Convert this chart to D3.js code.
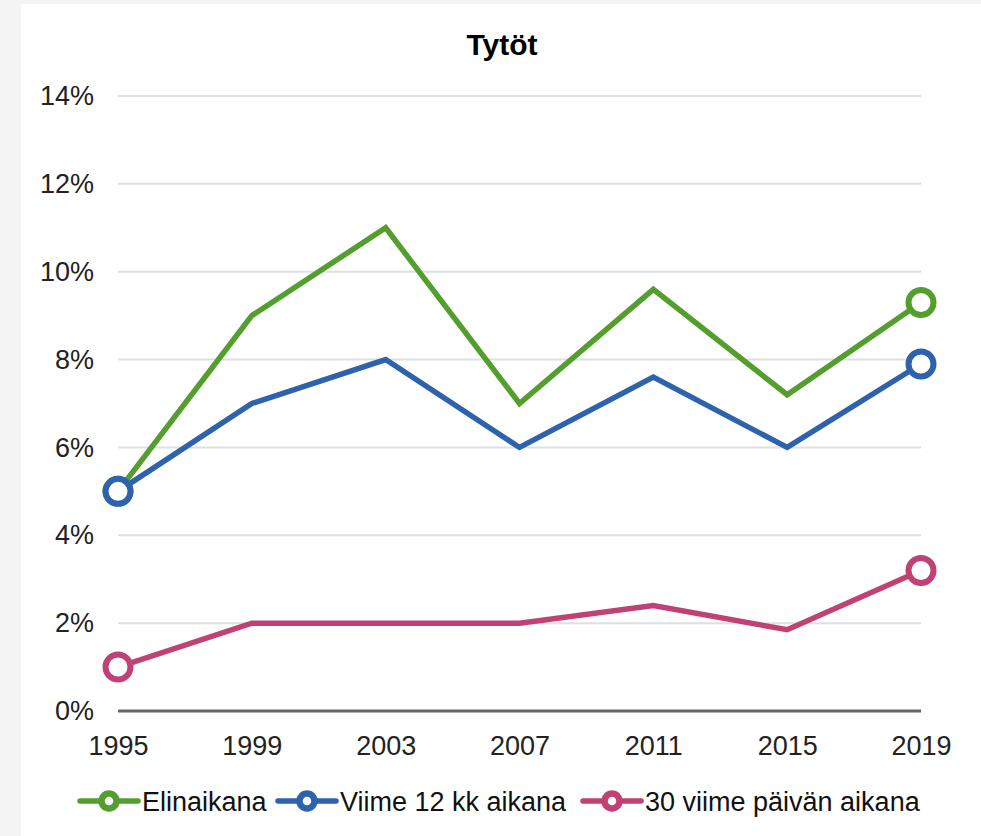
<!DOCTYPE html>
<html>
<head>
<meta charset="utf-8">
<script src="https://cdn.jsdelivr.net/npm/d3@7"></script>
<style>
  html, body { margin: 0; padding: 0; background: #f4f4f4; }
  svg { display: block; font-family: "Liberation Sans", Arial, sans-serif; }
</style>
</head>
<body>
<svg id="chart" width="981" height="836"></svg>
<script>
const years = ['1995', '1999', '2003', '2007', '2011', '2015', '2019']
const elinaikana = [5.0, 9.0, 11.0, 7.0, 9.6, 7.2, 9.3]
const viime12kk = [5.0, 7.0, 8.0, 6.0, 7.6, 6.0, 7.9]
const viime30pv = [1.0, 2.0, 2.0, 2.0, 2.4, 1.85, 3.2]
const yTicks = [0, 2, 4, 6, 8, 10, 12, 14]
const seriesNames = ['Elinaikana', 'Viime 12 kk aikana', '30 viime päivän aikana']
const seriesColors = ['#549e2e', '#2e62ad', '#c04174']

const series = [elinaikana, viime12kk, viime30pv].map((values, i) => ({
    name: seriesNames[i],
    color: seriesColors[i],
    values: values
}))

const svg = d3.select('#chart')

// white panel
svg.append('rect')
    .attr('x', 21).attr('y', 4)
    .attr('width', 981 - 21).attr('height', 836 - 4)
    .attr('fill', '#fff')

const xScale = d3.scalePoint()
    .domain(years)
    .range([118, 921])

const yScale = d3.scaleLinear()
    .domain([0, 14])
    .range([711, 96])

// title
svg.append('text')
    .attr('x', 502).attr('y', 55)
    .attr('text-anchor', 'middle')
    .attr('font-size', 30)
    .attr('font-weight', 'bold')
    .attr('fill', '#000')
    .text('Tytöt')

// gridlines
svg.append('g')
    .selectAll('line')
    .data(yTicks.filter(d => d > 0))
    .enter()
    .append('line')
    .attr('x1', 118).attr('x2', 921)
    .attr('y1', d => yScale(d)).attr('y2', d => yScale(d))
    .attr('stroke', '#dde0e4')
    .attr('stroke-width', 2)

// y axis labels
const yAxisG = svg.append('g')
    .attr('transform', 'translate(118, 0)')
    .call(d3.axisLeft(yScale).tickValues(yTicks).tickFormat(d => d + '%').tickSize(0).tickPadding(24))
yAxisG.select('.domain').remove()
yAxisG.selectAll('text')
    .attr('font-size', 27)
    .attr('font-family', '"Liberation Sans", Arial, sans-serif')
    .attr('fill', '#222')

// x axis
const xAxisG = svg.append('g')
    .attr('transform', 'translate(0, 711)')
    .call(d3.axisBottom(xScale).tickSize(0).tickPadding(25))
xAxisG.select('.domain')
    .attr('d', 'M118,0H921')
    .attr('stroke', '#666')
    .attr('stroke-width', 3)
xAxisG.selectAll('text')
    .attr('font-size', 27)
    .attr('font-family', '"Liberation Sans", Arial, sans-serif')
    .attr('fill', '#222')

const line = d3.line()
    .x((d, i) => xScale(years[i]))
    .y(d => yScale(d))

const plot = svg.append('g')
series.forEach(s => {
    plot.append('path')
        .datum(s.values)
        .attr('d', line)
        .attr('fill', 'none')
        .attr('stroke', s.color)
        .attr('stroke-width', 5.5)
        .attr('stroke-linejoin', 'miter')
})
// end markers, first and last point only
series.forEach(s => {
    const ends = [0, s.values.length - 1]
    plot.selectAll(null)
        .data(ends)
        .enter()
        .append('circle')
        .attr('cx', i => xScale(years[i]))
        .attr('cy', i => yScale(s.values[i]))
        .attr('r', 12.5)
        .attr('fill', '#fff')
        .attr('stroke', s.color)
        .attr('stroke-width', 6)
})

// legend
const legendX = [80, 278, 583]
const legend = svg.append('g')
    .selectAll('g')
    .data(series)
    .enter()
    .append('g')
    .attr('transform', (d, i) => `translate(${legendX[i]}, 801)`)
legend.append('line')
    .attr('x1', 0).attr('x2', 58)
    .attr('y1', 0).attr('y2', 0)
    .attr('stroke', d => d.color)
    .attr('stroke-width', 5.5)
    .attr('stroke-linecap', 'round')
legend.append('circle')
    .attr('cx', 29).attr('cy', 0)
    .attr('r', 7.5)
    .attr('fill', '#fff')
    .attr('stroke', d => d.color)
    .attr('stroke-width', 6.5)
legend.append('text')
    .attr('x', 62).attr('y', 10)
    .attr('font-size', 27)
    .attr('fill', '#111')
    .text(d => d.name)
</script>
</body>
</html>
